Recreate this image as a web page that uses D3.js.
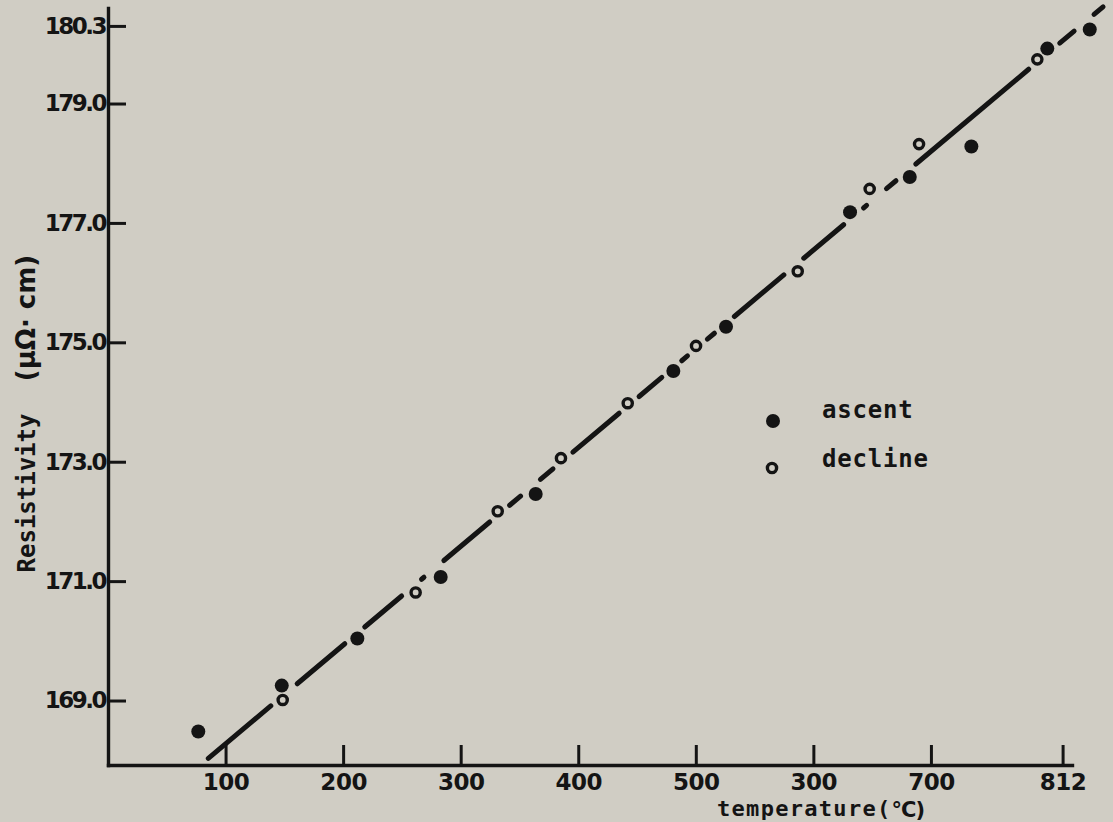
<!DOCTYPE html>
<html>
<head>
<meta charset="utf-8">
<script src="https://cdn.jsdelivr.net/npm/d3@7"></script>
<style>
  html, body { margin: 0; padding: 0; background: #d0cdc4; }
  svg { display: block; }
</style>
</head>
<body>
<svg id="chart" width="1113" height="822"></svg>
<script>
// Resistivity (μΩ·cm) against temperature (°C), heating and cooling runs
const ascentTemp  = [76.8, 147.8, 212.1, 283.0, 363.8, 480.9, 525.7, 631.2, 682.0, 734.4, 799.0, 835.1];
const ascentRes   = [168.48, 169.25, 170.04, 171.07, 172.46, 174.52, 175.26, 177.18, 177.77, 178.28, 179.92, 180.24];
const declineTemp = [148.6, 261.7, 331.5, 385.3, 442.1, 500.2, 586.7, 647.9, 689.9, 790.5];
const declineRes  = [169.01, 170.81, 172.17, 173.06, 173.98, 174.94, 176.19, 177.57, 178.32, 179.74];

// straight-line fit through both runs (end points)
const fitTemp = [85.3, 846.4];
const fitRes  = [168.03, 180.62];

const xTickValues = [100, 200, 300, 400, 500, 600, 700, 812];
const xTickLabels = ["100", "200", "300", "400", "500", "300", "700", "812"];
const yTickValues = [169, 171, 173, 175, 177, 179, 180.3];
const yTickLabels = ["169.0", "171.0", "173.0", "175.0", "177.0", "179.0", "180.3"];
const legendLabels = ["ascent", "decline"];

const ink = "#141414";
const paper = "#d0cdc4";
const letterFont = "'DejaVu Sans', sans-serif";
const typeFont = "'DejaVu Sans Mono', monospace";

const svg = d3.select("#chart");
svg.append("rect").attr("width", 1113).attr("height", 822).attr("fill", paper);

const x = d3.scaleLinear().domain([0, 820]).range([108, 1072]);
const y = d3.scaleLinear().domain([167.92, 180.6]).range([765, 8]);

// x axis: ticks pointing up into the plot
const xAxis = d3.axisBottom(x)
  .tickValues(xTickValues)
  .tickFormat((d, i) => xTickLabels[i])
  .tickSizeInner(-20)
  .tickSizeOuter(0)
  .tickPadding(9);

const gx = svg.append("g")
  .attr("transform", `translate(0,${y.range()[0]})`)
  .call(xAxis);

// y axis: ticks pointing right into the plot
const yAxis = d3.axisLeft(y)
  .tickValues(yTickValues)
  .tickFormat((d, i) => yTickLabels[i])
  .tickSizeInner(-18)
  .tickSizeOuter(0)
  .tickPadding(3);

const gy = svg.append("g")
  .attr("transform", `translate(${x.range()[0]},0)`)
  .call(yAxis);

[gx, gy].forEach(g => {
  g.attr("color", ink)
   .attr("font-family", letterFont)
   .attr("font-size", 23)
   .attr("font-weight", "bold");
  g.select(".domain").attr("stroke-width", 3.4).attr("stroke-linecap", "square");
  g.selectAll(".tick line").attr("stroke-width", 3);
});
gx.selectAll(".tick text").attr("letter-spacing", "-0.5px");
gy.selectAll(".tick text").attr("letter-spacing", "-2.5px");

// fitted line, broken where it passes under a plotted point
const p0 = [x(fitTemp[0]), y(fitRes[0])];
const p1 = [x(fitTemp[1]), y(fitRes[1])];
const ddx = p1[0] - p0[0], ddy = p1[1] - p0[1];
const len = Math.hypot(ddx, ddy);
const ux = ddx / len, uy = ddy / len;

const allPts = ascentTemp.map((t, i) => [x(t), y(ascentRes[i])])
  .concat(declineTemp.map((t, i) => [x(t), y(declineRes[i])]));

const gaps = [];
allPts.forEach(([px, py]) => {
  const s = (px - p0[0]) * ux + (py - p0[1]) * uy;
  const d = Math.abs((px - p0[0]) * uy - (py - p0[1]) * ux);
  if (d < 11 && s > -10 && s < len + 10) gaps.push([s - 13, s + 13]);
});
gaps.sort((a, b) => a[0] - b[0]);

const segs = [];
let cur = 0;
gaps.forEach(([a, b]) => {
  if (a > cur) segs.push([cur, Math.min(a, len)]);
  cur = Math.max(cur, b);
});
if (cur < len) segs.push([cur, len]);

const fitLine = d3.line();
svg.append("g")
  .selectAll("path")
  .data(segs.filter(s => s[1] - s[0] > 2))
  .join("path")
  .attr("d", ([a, b]) => fitLine([
    [p0[0] + ux * a, p0[1] + uy * a],
    [p0[0] + ux * b, p0[1] + uy * b]
  ]))
  .attr("stroke", ink)
  .attr("stroke-width", 5)
  .attr("stroke-linecap", "round")
  .attr("fill", "none");

// ascent: solid dots
svg.append("g")
  .selectAll("circle")
  .data(ascentTemp.map((t, i) => ({ t, r: ascentRes[i] })))
  .join("circle")
  .attr("cx", d => x(d.t))
  .attr("cy", d => y(d.r))
  .attr("r", 7)
  .attr("fill", ink);

// decline: open rings
svg.append("g")
  .selectAll("circle")
  .data(declineTemp.map((t, i) => ({ t, r: declineRes[i] })))
  .join("circle")
  .attr("cx", d => x(d.t))
  .attr("cy", d => y(d.r))
  .attr("r", 4.6)
  .attr("fill", paper)
  .attr("stroke", ink)
  .attr("stroke-width", 3.4);

// legend
const legend = svg.append("g").attr("transform", "translate(773,421)");
legend.append("circle").attr("cx", 0).attr("cy", 0).attr("r", 7).attr("fill", ink);
legend.append("circle").attr("cx", -1).attr("cy", 47).attr("r", 4.6)
  .attr("fill", paper).attr("stroke", ink).attr("stroke-width", 3.4);
legend.selectAll("text")
  .data(legendLabels)
  .join("text")
  .attr("x", 49)
  .attr("y", (d, i) => -3 + i * 49)
  .attr("font-family", typeFont)
  .attr("font-weight", "bold")
  .attr("font-size", 24)
  .attr("letter-spacing", "0.8px")
  .attr("fill", ink)
  .text(d => d);

// axis titles
const xTitle = svg.append("text")
  .attr("x", 717)
  .attr("y", 816)
  .attr("font-family", typeFont)
  .attr("font-weight", "bold")
  .attr("font-size", 22)
  .attr("letter-spacing", "1.3px")
  .attr("fill", ink);
xTitle.append("tspan").text("temperature(");
xTitle.append("tspan")
  .attr("font-family", letterFont)
  .attr("font-size", 21)
  .attr("letter-spacing", "-1px")
  .attr("dy", 1)
  .text("°C)");

svg.append("text")
  .attr("transform", "translate(35,493) rotate(-90)")
  .attr("text-anchor", "middle")
  .attr("font-family", typeFont)
  .attr("font-weight", "bold")
  .attr("font-size", 24)
  .attr("fill", ink)
  .text("Resistivity");

svg.append("text")
  .attr("transform", "translate(35,318) rotate(-90)")
  .attr("text-anchor", "middle")
  .attr("font-family", letterFont)
  .attr("font-weight", "bold")
  .attr("font-size", 26)
  .attr("fill", ink)
  .text("(μΩ· cm)");
</script>
</body>
</html>
